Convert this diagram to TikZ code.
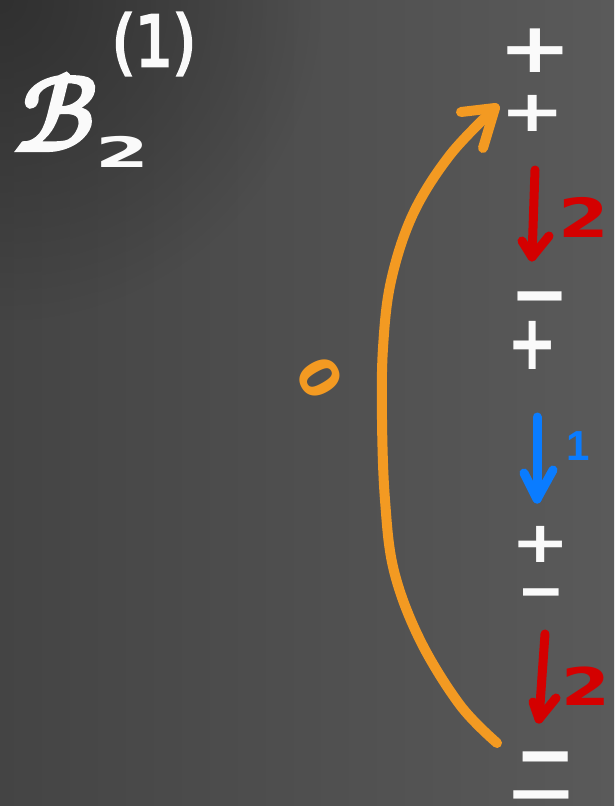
\documentclass[tikz,border=0pt]{standalone}
\usepackage{fontspec}
\usetikzlibrary{fadings}
\tikzfading[name=cornerfade, inner color=transparent!0, outer color=transparent!100]
\newfontfamily\calfont[FakeBold=5]{latinmodern-math.otf}
\newfontfamily\signfont{DejaVu Sans}
\newfontfamily\chalkfont[FakeBold=4]{DejaVu Sans}
\newfontfamily\tickfont{Liberation Sans}
\definecolor{bgleft}{HTML}{444444}
\definecolor{bgright}{HTML}{5A5A5A}
\definecolor{bgdark}{HTML}{2E2E2E}
\definecolor{chalk}{HTML}{FAFAFA}
\definecolor{chred}{HTML}{D40000}
\definecolor{chblue}{HTML}{0A7CFF}
\definecolor{chorange}{HTML}{F39A22}
\tikzset{
  lbl/.style={inner sep=0pt, outer sep=0pt},
  sign/.style={lbl, text=chalk, anchor=center, text height=0pt, text depth=0pt,
    font=\signfont\bfseries\fontsize{80}{80}\selectfont},
  stroke/.style={line width=#1, line cap=round, line join=round},
}
\newcommand\sg[3]{\scalebox{#1}[#2]{\raisebox{-0.3em}{#3}}}
\begin{document}
\begin{tikzpicture}[x=1pt,y=-1pt]
\useasboundingbox (0,0) rectangle (614,806);
\shade[left color=bgleft, right color=bgright] (0,0) rectangle (614,806);
\fill[bgdark, path fading=cornerfade, fill opacity=0.9] (-320,-320) rectangle (320,320);
% title
\node[lbl, text=chalk, font=\calfont\fontsize{105}{105}\selectfont] (B) at (56,112) {ℬ};
\node[lbl, text=chalk, font=\signfont\bfseries\fontsize{42}{42}\selectfont] (Bsub) at (123,152) {\scalebox{1.85}[1]{2}};
\node[lbl, text=chalk, font=\chalkfont\fontsize{70}{70}\selectfont] (Bsup) at (154,44) {\scalebox{0.85}[1]{(1)}};
% signs
\node[sign] (s1) at (535,52) {\sg{1.1}{0.87}{+}};
\node[sign] (s2) at (533,114) {\sg{0.96}{0.72}{+}};
\node[sign] (s3) at (540,297) {\sg{0.88}{1}{−}};
\node[sign] (s4) at (533,346) {\sg{0.75}{0.96}{+}};
\node[sign] (s5) at (541,545) {\sg{0.87}{0.72}{+}};
\node[sign] (s6) at (541,593) {\sg{0.71}{0.8}{−}};
\node[sign] (s7) at (546,758) {\sg{0.9}{1.1}{−}};
\node[sign] (s8) at (541,796) {\sg{1.1}{0.9}{−}};
% red arrow 1
\coordinate (r1s) at (535,170);
\coordinate (r1t) at (532,257);
\coordinate (r1a) at (522,241);
\coordinate (r1b) at (549,236);
\draw[chred, stroke=9pt] (r1s) -- (r1t);
\draw[chred, stroke=9pt] (r1a) -- (r1t) -- (r1b);
\node[lbl, text=chred, font=\signfont\bfseries\fontsize{54}{54}\selectfont] (r1l) at (584,217) {\scalebox{1.35}[1]{2}};
% blue arrow
\coordinate (bs) at (537,417);
\coordinate (bt) at (537,499);
\coordinate (ba) at (524,473);
\coordinate (bb) at (553,470);
\draw[chblue, stroke=9pt] (bs) -- (bt);
\draw[chblue, stroke=9pt] (ba) -- (bt) -- (bb);
\node[lbl, text=chblue, font=\tickfont\bfseries\fontsize{42}{42}\selectfont] (bl) at (578,446) {1};
% red arrow 2
\coordinate (r2s) at (545,634);
\coordinate (r2t) at (539,719);
\coordinate (r2a) at (533,702);
\coordinate (r2b) at (556,698);
\draw[chred, stroke=9pt] (r2s) -- (r2t);
\draw[chred, stroke=9pt] (r2a) -- (r2t) -- (r2b);
\node[lbl, text=chred, font=\signfont\bfseries\fontsize{52}{52}\selectfont] (r2l) at (586,686) {\scalebox{1.35}[1]{2}};
% orange arc
\coordinate (os) at (497,743);
\coordinate (ot) at (495,108);
\coordinate (oa) at (461,112);
\coordinate (ob) at (483,148);
\draw[chorange, stroke=10pt] plot[smooth, tension=0.6] coordinates {(497,743) (460,705) (420,640) (394,571) (385,500) (382,420) (383,348) (391,281) (413,214) (450,155) (495,108)};
\draw[chorange, stroke=10pt] (oa) -- (ot) -- (ob);
\node[lbl, text=chorange, font=\signfont\bfseries\fontsize{54}{54}\selectfont] (ol) at (320,378) {\rotatebox{-60}{0}};
\end{tikzpicture}
\end{document}
